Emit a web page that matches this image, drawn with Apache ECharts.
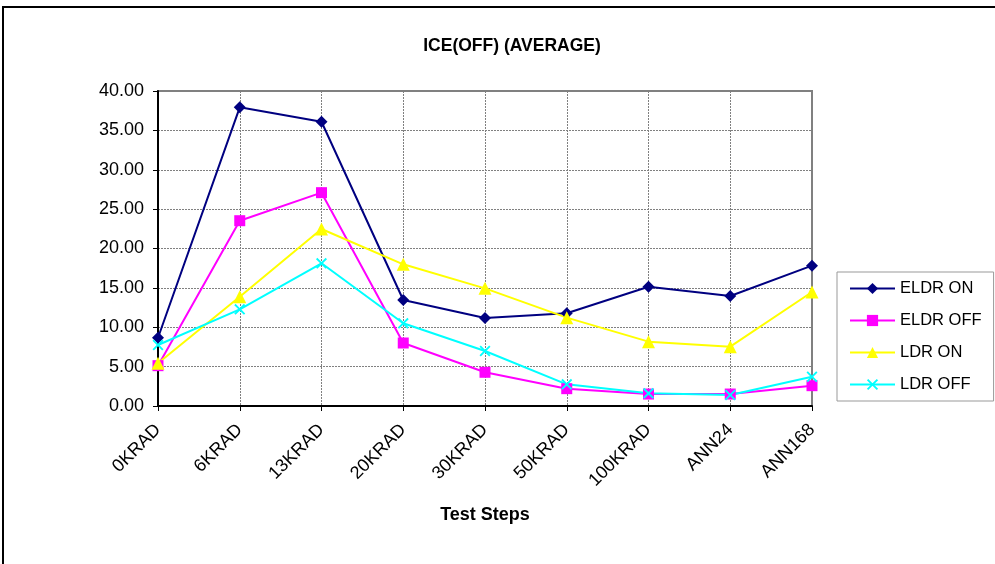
<!DOCTYPE html>
<html><head><meta charset="utf-8">
<script src="https://cdn.jsdelivr.net/npm/echarts@6/dist/echarts.min.js"></script>
<style>html,body{margin:0;padding:0;background:#fff}#c{width:995px;height:564px}</style>
</head><body><div id="c"></div>
<script>
const categories = ['0KRAD','6KRAD','13KRAD','20KRAD','30KRAD','50KRAD','100KRAD','ANN24','ANN168'];
const eldrOn  = [8.67, 37.93, 36.10, 13.46, 11.17, 11.77, 15.15, 13.97, 17.82];
const eldrOff = [5.12, 23.53, 27.09, 8.00, 4.28, 2.20, 1.52, 1.52, 2.58];
const ldrOn   = [5.42, 13.88, 22.48, 17.99, 14.94, 11.22, 8.17, 7.53, 14.48];
const ldrOff  = [7.75, 12.27, 18.12, 10.50, 6.98, 2.75, 1.61, 1.40, 3.72];
const seriesNames = ['ELDR ON','ELDR OFF','LDR ON','LDR OFF'];

const FONT = 'Liberation Sans, Arial, sans-serif';
const xMark = 'path://M0,1.2L1.2,0L5,3.8L8.8,0L10,1.2L6.2,5L10,8.8L8.8,10L5,6.2L1.2,10L0,8.8L3.8,5Z';

const chart = echarts.init(document.getElementById('c'), null, {renderer:'canvas'});
function mk(name, data, color, symbol, size){
  return {name, type:'line', data, symbol, symbolSize:size, showAllSymbol:true,
    lineStyle:{color, width:2}, itemStyle:{color, borderWidth:0}, emphasis:{disabled:true}, animation:false, z:3};
}
chart.setOption({
  animation:false,
  backgroundColor:'#fff',
  graphic:[{type:'rect', shape:{x:3,y:7,width:1100,height:700}, style:{fill:'none', stroke:'#000', lineWidth:2}, z:-1}],
  title:{text:'ICE(OFF) (AVERAGE)', left:507, top:32, textAlign:'center',
    textStyle:{fontFamily:FONT, fontSize:17.5, fontWeight:'bold', color:'#000'}},
  grid:{left:158, top:91, width:654, height:315, show:true, borderColor:'#808080', borderWidth:2, backgroundColor:'transparent'},
  legend:{orient:'vertical', left:837, top:272, data:seriesNames, backgroundColor:'#fff',
    borderColor:'#999', borderWidth:1, padding:[8,12,8,12], itemWidth:45, itemHeight:14, itemGap:15,
    textStyle:{fontFamily:FONT, fontSize:16.5, color:'#000'}},
  xAxis:{type:'category', data:categories, boundaryGap:false,
    name:'Test Steps', nameLocation:'middle', nameGap:100,
    nameTextStyle:{fontFamily:FONT, fontSize:18, fontWeight:'bold', color:'#000'},
    axisLine:{lineStyle:{color:'#000', width:2}},
    axisTick:{show:true, length:5, alignWithLabel:true, lineStyle:{color:'#000'}},
    axisLabel:{rotate:45, margin:21, fontFamily:FONT, fontSize:18, color:'#000', interval:0},
    splitLine:{show:true, lineStyle:{color:'#808080', width:1, type:[2,1]}}},
  yAxis:{type:'value', min:0, max:40, interval:5,
    axisLine:{show:true, lineStyle:{color:'#000', width:2}},
    axisTick:{show:true, length:5, lineStyle:{color:'#000'}},
    axisLabel:{margin:14, fontFamily:FONT, fontSize:18, color:'#000', formatter:v=>v.toFixed(2)},
    splitLine:{show:true, lineStyle:{color:'#808080', width:1, type:[2,1]}}},
  series:[
    mk(seriesNames[0], eldrOn, '#000080', 'diamond', 12),
    mk(seriesNames[1], eldrOff, '#FF00FF', 'rect', 11),
    mk(seriesNames[2], ldrOn, '#FFFF00', 'triangle', 13),
    mk(seriesNames[3], ldrOff, '#00FFFF', xMark, 11)
  ]
});
</script></body></html>
